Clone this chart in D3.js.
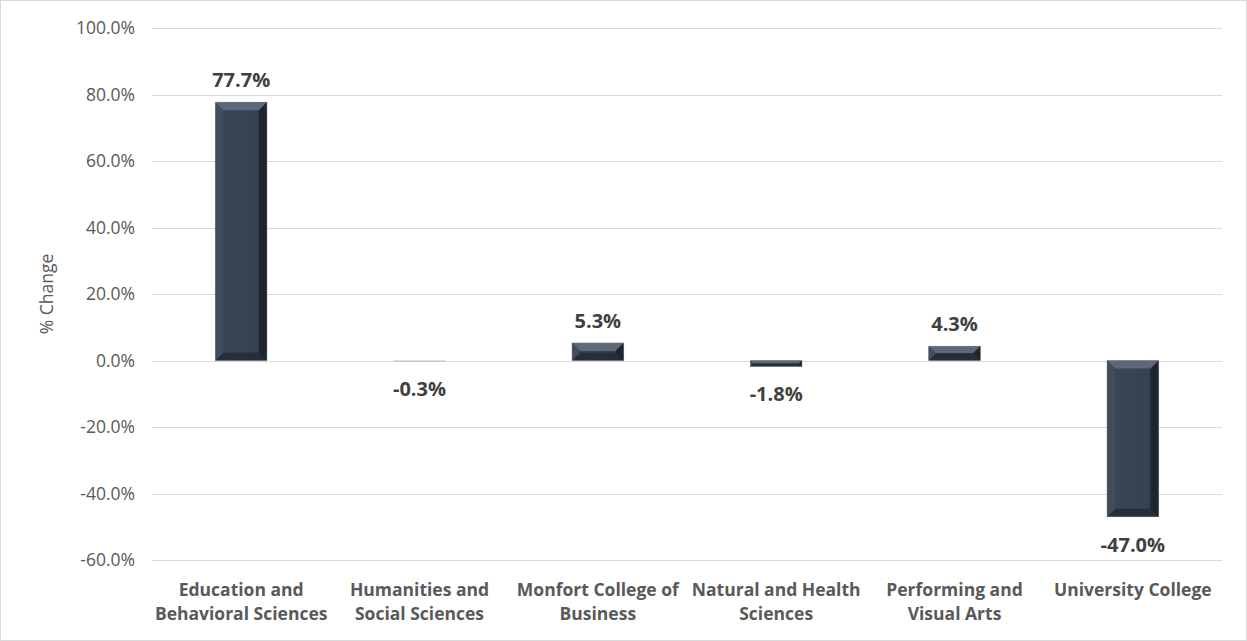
<!DOCTYPE html>
<html>
<head>
<meta charset="utf-8">
<script src="https://cdn.jsdelivr.net/npm/d3@7"></script>
<style>
  body { margin: 0; background: #fff; }
  svg { display: block; font-family: "Open Sans", sans-serif; }
</style>
</head>
<body>
<svg id="chart" width="1247" height="641"></svg>
<script>
// data
var categories = [
    ["Education and", "Behavioral Sciences"],
    ["Humanities and", "Social Sciences"],
    ["Monfort College of", "Business"],
    ["Natural and Health", "Sciences"],
    ["Performing and", "Visual Arts"],
    ["University College"]
];
var changes = [77.7, -0.3, 5.3, -1.8, 4.3, -47.0];
var yTicks = [100, 80, 60, 40, 20, 0, -20, -40, -60];

var svg = d3.select("#chart");
var width = +svg.attr("width");
var height = +svg.attr("height");

function pct(d){
    return d3.format(".1f")(d).replace("\u2212", "-") + "%";
}

// outer frame
svg.append("rect")
    .attr("x", 0.5).attr("y", 0.5)
    .attr("width", width - 1).attr("height", height - 1)
    .attr("fill", "#fff")
    .attr("stroke", "#d9d9d9");

var plot = {left: 152, right: 1222, top: 28, bottom: 560};

var x = d3.scaleBand()
    .domain(d3.range(categories.length))
    .range([plot.left, plot.right])
    .paddingInner(0.71)
    .paddingOuter(0.355);

var y = d3.scaleLinear()
    .domain([-60, 100])
    .range([plot.bottom, plot.top]);

// gridlines
svg.append("g")
    .selectAll("line")
    .data(yTicks)
    .enter().append("line")
    .attr("x1", plot.left).attr("x2", plot.right)
    .attr("y1", function(d){ return Math.round(y(d)) + 0.5; })
    .attr("y2", function(d){ return Math.round(y(d)) + 0.5; })
    .attr("stroke", "#d9d9d9")
    .attr("stroke-width", 1);

// y axis labels
var yAxis = d3.axisLeft(y)
    .tickValues(yTicks)
    .tickSize(0)
    .tickPadding(0)
    .tickFormat(pct);

var ga = svg.append("g")
    .attr("transform", "translate(" + 135 + ",0)")
    .call(yAxis);
ga.select(".domain").remove();
ga.selectAll("text")
    .attr("fill", "#595959")
    .attr("font-size", 17.5)
    .attr("font-family", "'Open Sans', sans-serif");

// axis title
svg.append("text")
    .attr("transform", "translate(53," + ((plot.top + plot.bottom) / 2) + ") rotate(-90)")
    .attr("text-anchor", "middle")
    .attr("fill", "#595959")
    .attr("font-size", 17.5)
    .text("% Change");

// bars with bevel
var defs = svg.append("defs");
var gv = defs.append("linearGradient").attr("id", "barFill")
    .attr("x1", 0).attr("x2", 1).attr("y1", 0).attr("y2", 0);
gv.append("stop").attr("offset", "0%").attr("stop-color", "#2e3846");
gv.append("stop").attr("offset", "12%").attr("stop-color", "#3a4557");
gv.append("stop").attr("offset", "80%").attr("stop-color", "#364152");
gv.append("stop").attr("offset", "100%").attr("stop-color", "#1c232c");

var bars = svg.append("g")
    .selectAll("g")
    .data(changes)
    .enter().append("g");

bars.each(function(d, i){
    var g = d3.select(this);
    var x0 = x(i), w = x.bandwidth();
    var top = y(Math.max(0, d)), bot = y(Math.min(0, d));
    var h = bot - top;
    g.append("rect")
        .attr("x", x0).attr("y", top)
        .attr("width", w).attr("height", Math.max(h, 1))
        .attr("fill", "url(#barFill)");
    if (h < 4) {
        g.select("rect").attr("fill", "#b8bccb");
        return;
    }
    var b = Math.min(8, h / 2);
    // top bevel (highlight)
    g.append("path")
        .attr("d", "M" + x0 + "," + top + "L" + (x0 + w) + "," + top +
            "L" + (x0 + w - b) + "," + (top + b) + "L" + (x0 + b) + "," + (top + b) + "Z")
        .attr("fill", "#5d6879");
    // bottom bevel (shadow)
    g.append("path")
        .attr("d", "M" + x0 + "," + bot + "L" + (x0 + w) + "," + bot +
            "L" + (x0 + w - b) + "," + (bot - b) + "L" + (x0 + b) + "," + (bot - b) + "Z")
        .attr("fill", "#262e3a");
    // right bevel
    g.append("path")
        .attr("d", "M" + (x0 + w) + "," + top + "L" + (x0 + w) + "," + bot +
            "L" + (x0 + w - b) + "," + (bot - b) + "L" + (x0 + w - b) + "," + (top + b) + "Z")
        .attr("fill", "#1e252f");
    // left bevel
    g.append("path")
        .attr("d", "M" + x0 + "," + top + "L" + x0 + "," + bot +
            "L" + (x0 + b) + "," + (bot - b) + "L" + (x0 + b) + "," + (top + b) + "Z")
        .attr("fill", "#414c5d");
    g.append("rect")
        .attr("x", x0).attr("y", top)
        .attr("width", w).attr("height", h)
        .attr("fill", "none")
        .attr("stroke", "#8a93a3")
        .attr("stroke-opacity", 0.5)
        .attr("stroke-width", 0.8);
});

// value labels
svg.append("g")
    .selectAll("text")
    .data(changes)
    .enter().append("text")
    .attr("x", function(d, i){ return x(i) + x.bandwidth() / 2; })
    .attr("y", function(d){ return d >= 0 ? y(d) - 15 : y(d) + 35; })
    .attr("text-anchor", "middle")
    .attr("font-size", 20)
    .attr("font-weight", "bold")
    .attr("fill", "#404040")
    .text(pct);

// category labels
var cl = svg.append("g")
    .selectAll("text")
    .data(categories)
    .enter().append("text")
    .attr("x", function(d, i){ return x(i) + x.bandwidth() / 2; })
    .attr("y", 596)
    .attr("text-anchor", "middle")
    .attr("font-size", 17.5)
    .attr("font-weight", "bold")
    .attr("fill", "#595959");
cl.selectAll("tspan")
    .data(function(d){ return d; })
    .enter().append("tspan")
    .attr("x", function(){ return d3.select(this.parentNode).attr("x"); })
    .attr("dy", function(d, j){ return j === 0 ? 0 : 24; })
    .text(function(d){ return d; });
</script>
</body>
</html>
